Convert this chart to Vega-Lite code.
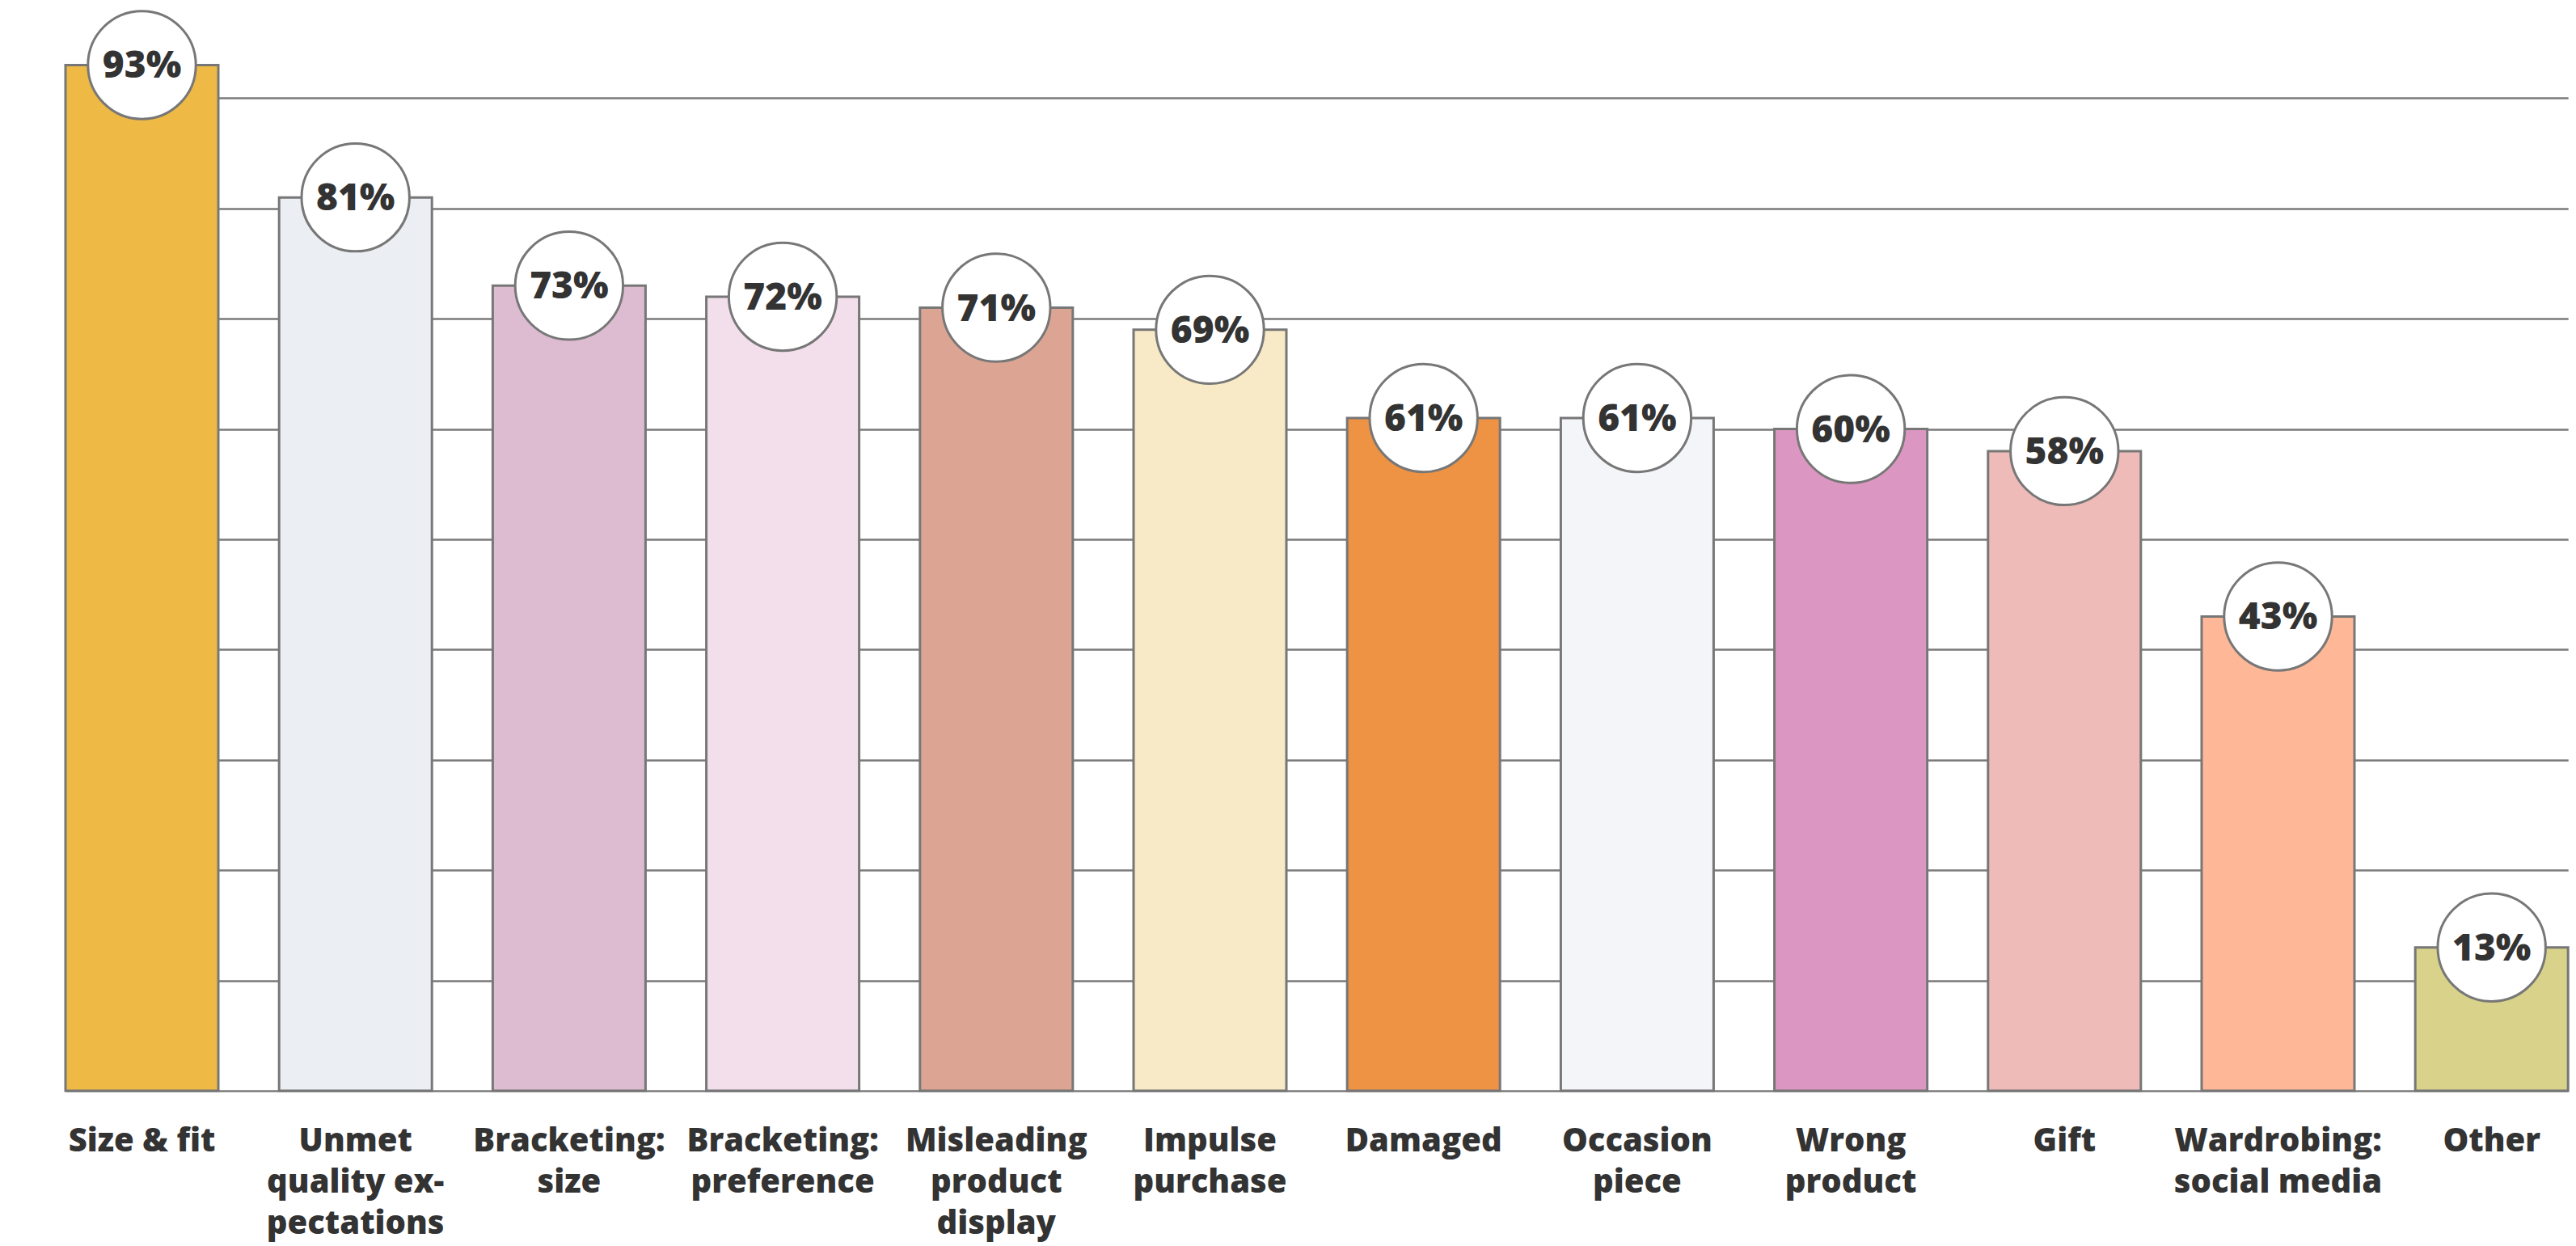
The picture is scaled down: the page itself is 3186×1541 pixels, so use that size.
{
  "$schema": "https://vega.github.io/schema/vega-lite/v6.json",
  "autosize": "none",
  "width": 3161,
  "height": 1349,
  "padding": {"left": 25, "top": 0, "right": 0, "bottom": 192},
  "background": "#ffffff",
  "config": {"view": {"stroke": null}},
  "data": {
    "values": [
      {"reason": "Size & fit", "share": 0.93},
      {"reason": "Unmet\nquality ex-\npectations", "share": 0.81},
      {"reason": "Bracketing:\nsize", "share": 0.73},
      {"reason": "Bracketing:\npreference", "share": 0.72},
      {"reason": "Misleading\nproduct\ndisplay", "share": 0.71},
      {"reason": "Impulse\npurchase", "share": 0.69},
      {"reason": "Damaged", "share": 0.61},
      {"reason": "Occasion\npiece", "share": 0.61},
      {"reason": "Wrong\nproduct", "share": 0.60},
      {"reason": "Gift", "share": 0.58},
      {"reason": "Wardrobing:\nsocial media", "share": 0.43},
      {"reason": "Other", "share": 0.13}
    ]
  },
  "encoding": {
    "x": {
      "field": "reason",
      "type": "nominal",
      "sort": null,
      "scale": {"range": [56, 3151.2], "paddingInner": 0.2846, "paddingOuter": 0},
      "axis": {
        "title": null,
        "domain": false,
        "ticks": false,
        "grid": false,
        "labelAngle": 0,
        "labelAlign": "center",
        "labelBaseline": "top",
        "labelPadding": 42,
        "labelFont": "Open Sans",
        "labelFontWeight": 800,
        "labelFontSize": 40,
        "labelLineHeight": 51,
        "labelLimit": 0,
        "labelOverlap": false,
        "labelColor": "#333333",
        "labelExpr": "split(datum.label, '\\n')"
      }
    },
    "y": {
      "field": "share",
      "type": "quantitative",
      "scale": {"domain": [0, 0.989], "nice": false, "zero": true},
      "axis": {
        "title": null,
        "labels": false,
        "ticks": false,
        "domain": false,
        "grid": true,
        "gridColor": "#7a7a7a",
        "gridWidth": 2.5,
        "gridOpacity": 1,
        "values": [0, 0.1, 0.2, 0.3, 0.4, 0.5, 0.6, 0.7, 0.8, 0.9]
      }
    }
  },
  "layer": [
    {
      "mark": {"type": "bar", "stroke": "#777777", "strokeWidth": 3},
      "encoding": {
        "color": {
          "field": "reason",
          "type": "nominal",
          "legend": null,
          "scale": {
            "domain": ["Size & fit", "Unmet\nquality ex-\npectations", "Bracketing:\nsize", "Bracketing:\npreference", "Misleading\nproduct\ndisplay", "Impulse\npurchase", "Damaged", "Occasion\npiece", "Wrong\nproduct", "Gift", "Wardrobing:\nsocial media", "Other"],
            "range": ["#EEBA45", "#EBEEF3", "#DDBCD1", "#F2DFEB", "#DCA593", "#F8EAC6", "#EE9244", "#F4F5F9", "#DC96C2", "#EEBBB8", "#FEB897", "#D9D28A"]
          }
        }
      }
    },
    {
      "mark": {"type": "circle", "fill": "#ffffff", "stroke": "#777777", "strokeWidth": 3, "opacity": 1, "size": 17800}
    },
    {
      "mark": {"type": "text", "font": "Open Sans", "fontWeight": 800, "fontSize": 46, "color": "#333333", "baseline": "middle", "align": "center", "dy": 2},
      "encoding": {"text": {"field": "share", "type": "quantitative", "format": ".0%"}}
    }
  ]
}
